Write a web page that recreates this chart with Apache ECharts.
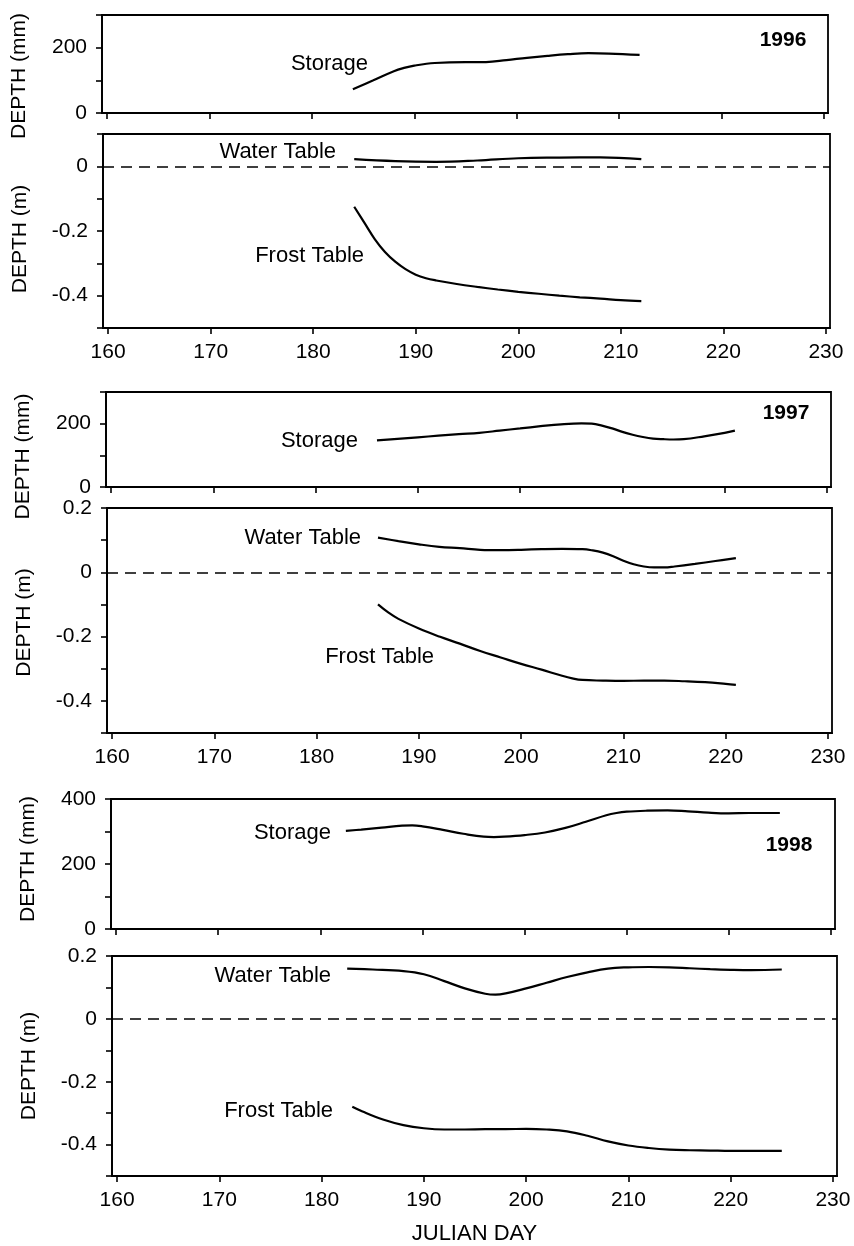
<!DOCTYPE html>
<html>
<head>
<meta charset="utf-8">
<script src="https://cdn.jsdelivr.net/npm/echarts@6/dist/echarts.min.js"></script>
<style>html,body{margin:0;padding:0;background:#fff;}#c{width:854px;height:1246px;}</style>
</head>
<body>
<div id="c"></div>
<script>
// ---- data (Julian day, value) ----
const xTicks = [160, 170, 180, 190, 200, 210, 220, 230];

const storage1996Days = [184, 186, 188, 189, 190, 192, 195, 197, 199, 201, 203, 205, 207, 209, 212];
const storage1996 = [73, 100, 128, 138, 145, 153, 156, 156, 162, 169, 175, 180, 183, 182, 178];

const water1996Days = [184, 188, 192, 196, 200, 204, 208, 212];
const water1996 = [0.022, 0.016, 0.014, 0.018, 0.025, 0.027, 0.028, 0.022];

const frost1996Days = [184, 185, 186, 187, 188, 189, 190, 191, 192, 194, 196, 198, 200, 202, 204, 206, 208, 210, 212];
const frost1996 = [-0.125, -0.175, -0.225, -0.265, -0.295, -0.318, -0.335, -0.346, -0.353, -0.364, -0.373, -0.381, -0.388, -0.394, -0.400, -0.405, -0.409, -0.414, -0.417];

const storage1997Days = [186, 188, 190, 192, 194, 196, 198, 200, 202, 204, 206, 207, 208, 209, 210, 211, 212, 213, 214, 215, 216, 218, 220, 221];
const storage1997 = [147, 152, 157, 162, 167, 171, 178, 185, 192, 198, 201, 200, 194, 185, 174, 165, 158, 153, 151, 150, 151, 160, 171, 178];

const water1997Days = [186, 188, 190, 192, 194, 196, 198, 200, 202, 204, 206, 207, 208, 209, 210, 211, 212, 213, 214, 215, 217, 219, 221];
const water1997 = [0.108, 0.097, 0.087, 0.079, 0.075, 0.070, 0.069, 0.070, 0.072, 0.073, 0.072, 0.068, 0.061, 0.050, 0.036, 0.025, 0.018, 0.015, 0.015, 0.018, 0.026, 0.035, 0.044];

const frost1997Days = [186, 187, 188, 190, 192, 194, 196, 198, 200, 202, 204, 205, 206, 208, 210, 212, 214, 216, 218, 220, 221];
const frost1997 = [-0.100, -0.125, -0.145, -0.175, -0.200, -0.222, -0.245, -0.265, -0.285, -0.303, -0.322, -0.330, -0.335, -0.337, -0.338, -0.337, -0.337, -0.339, -0.342, -0.347, -0.350];

const storage1998Days = [182.5, 184, 186, 188, 189, 190, 192, 194, 196, 197, 198, 200, 202, 204, 206, 208, 209, 210, 212, 214, 216, 218, 220, 222, 225];
const storage1998 = [302, 306, 312, 318, 319, 316, 305, 293, 284, 283, 284, 289, 297, 311, 330, 350, 357, 361, 364, 365, 362, 358, 356, 357, 357];

const water1998Days = [182.5, 185, 188, 190, 192, 194, 196, 197, 198, 200, 202, 204, 206, 208, 210, 212, 214, 216, 218, 220, 222, 225];
const water1998 = [0.160, 0.157, 0.152, 0.142, 0.120, 0.097, 0.080, 0.077, 0.081, 0.097, 0.115, 0.133, 0.148, 0.160, 0.164, 0.165, 0.164, 0.161, 0.158, 0.156, 0.155, 0.157];

const frost1998Days = [183, 184, 186, 188, 190, 192, 194, 196, 198, 200, 202, 204, 206, 208, 210, 212, 214, 216, 218, 220, 222, 225];
const frost1998 = [-0.280, -0.295, -0.320, -0.338, -0.348, -0.352, -0.352, -0.351, -0.351, -0.350, -0.352, -0.358, -0.372, -0.390, -0.403, -0.411, -0.416, -0.418, -0.419, -0.420, -0.420, -0.420];

// ---- build chart ----
const FONT = 'Liberation Sans, Arial, Helvetica, sans-serif';
const zip = (d, v) => d.map((x, i) => [x, v[i]]);

const grids = [
  {left: 102, right: 26, top: 15, height: 98},
  {left: 103, right: 24, top: 134, height: 194},
  {left: 106, right: 23, top: 392, height: 95},
  {left: 107, right: 22, top: 508, height: 225},
  {left: 111, right: 19, top: 799, height: 130},
  {left: 112, right: 17, top: 956, height: 226}
].map(g => Object.assign(g, {show: true, borderColor: '#000', borderWidth: 1.8, backgroundColor: '#fff'}));

const lineAx = {show: true, onZero: false, lineStyle: {color: '#000', width: 1.8}};
const tickSt = {show: true, length: 6, lineStyle: {color: '#000', width: 1.6}};

const xAxes = grids.map((g, i) => ({
  type: 'value', gridIndex: i, min: 159.5, max: 230.4,
  axisLine: lineAx,
  axisTick: Object.assign({customValues: xTicks}, tickSt),
  splitLine: {show: false},
  axisLabel: {show: i % 2 === 1, customValues: xTicks, color: '#000', fontSize: 21, fontFamily: FONT, margin: 14},
  name: i === 5 ? 'JULIAN DAY' : '',
  nameLocation: 'middle', nameGap: 47,
  nameTextStyle: {color: '#000', fontSize: 22, fontFamily: FONT}
}));

function yAxis(i, min, max, interval, every, name, pad) {
  return {
    type: 'value', gridIndex: i, min: min, max: max, interval: interval,
    axisLine: lineAx, axisTick: tickSt, splitLine: {show: false},
    axisLabel: {
      color: '#000', fontSize: 21, fontFamily: FONT, margin: 15,
      formatter: v => {
        const k = Math.round(v / interval);
        if (k % every !== 0) return '';
        const r = Math.round(v * 1000) / 1000;
        return String(r === 0 ? 0 : r);
      }
    },
    name: name, nameLocation: 'middle', nameGap: 72,
    nameTextStyle: {color: '#000', fontSize: 21, fontFamily: FONT, padding: pad}
  };
}

const yAxes = [
  yAxis(0, 0, 300, 100, 2, 'DEPTH (mm)', [0, 24, 0, 0]),
  yAxis(1, -0.5, 0.1, 0.1, 2, 'DEPTH (m)', [0, 16, 0, 0]),
  yAxis(2, 0, 300, 100, 2, 'DEPTH (mm)', [0, 34, 0, 0]),
  yAxis(3, -0.5, 0.2, 0.1, 2, 'DEPTH (m)', [0, 4, 0, 0]),
  yAxis(4, 0, 400, 100, 2, 'DEPTH (mm)', [0, 0, 0, 10]),
  yAxis(5, -0.5, 0.2, 0.1, 2, 'DEPTH (m)', [0, 0, 0, 0])
];

function line(i, days, vals, zero) {
  const s = {
    type: 'line', xAxisIndex: i, yAxisIndex: i, data: zip(days, vals),
    showSymbol: false, smooth: 0.4, silent: true,
    lineStyle: {color: '#000', width: 2.2}, z: 3
  };
  if (zero) {
    s.markLine = {silent: true, symbol: 'none', label: {show: false},
      lineStyle: {color: '#000', width: 1.6, type: [11, 7]},
      data: [{yAxis: 0}]};
  }
  return s;
}

const series = [
  line(0, storage1996Days, storage1996),
  line(1, water1996Days, water1996, true),
  line(1, frost1996Days, frost1996),
  line(2, storage1997Days, storage1997),
  line(3, water1997Days, water1997, true),
  line(3, frost1997Days, frost1997),
  line(4, storage1998Days, storage1998),
  line(5, water1998Days, water1998, true),
  line(5, frost1998Days, frost1998)
];

function txt(x, y, t, align, bold) {
  return {type: 'text', x: x, y: y, z: 10,
    style: {text: t, fill: '#000', font: (bold ? 'bold ' : '') + (bold ? 21 : 22) + 'px ' + FONT,
      textAlign: align, textVerticalAlign: 'middle'}};
}

const graphic = [
  txt(368, 64, 'Storage', 'right'),
  txt(783, 40, '1996', 'center', true),
  txt(336, 152, 'Water Table', 'right'),
  txt(364, 256, 'Frost Table', 'right'),
  txt(358, 441, 'Storage', 'right'),
  txt(786, 413, '1997', 'center', true),
  txt(361, 538, 'Water Table', 'right'),
  txt(434, 657, 'Frost Table', 'right'),
  txt(331, 833, 'Storage', 'right'),
  txt(789, 845, '1998', 'center', true),
  txt(331, 976, 'Water Table', 'right'),
  txt(333, 1111, 'Frost Table', 'right')
];

const chart = echarts.init(document.getElementById('c'), null, {renderer: 'canvas'});
chart.setOption({
  backgroundColor: '#fff',
  animation: false,
  grid: grids, xAxis: xAxes, yAxis: yAxes, series: series, graphic: graphic
});
</script>
</body>
</html>
